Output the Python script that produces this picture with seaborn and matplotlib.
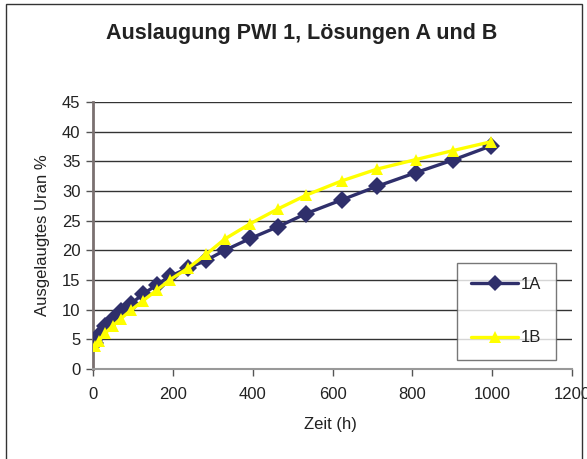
import pandas as pd
import matplotlib.pyplot as plt
import matplotlib.patches as patches
import seaborn as sns

# Zeit (h) und ausgelaugtes Uran in %
zeit = [5, 15, 30, 50, 70, 95, 125, 160, 192, 238, 283, 330, 394, 464, 534, 623, 712, 809, 901, 997]
uran_1a = [4.3, 5.8, 7.3, 8.5, 9.7, 11.0, 12.6, 14.2, 15.6, 17.0, 18.3, 20.0, 22.0, 24.0, 26.2, 28.5, 30.8, 33.1, 35.2, 37.6]
uran_1b = [3.8, 4.8, 6.0, 7.3, 8.5, 9.9, 11.5, 13.3, 15.0, 17.0, 19.3, 21.9, 24.5, 27.0, 29.3, 31.7, 33.7, 35.3, 36.8, 38.3]
series = ['1A', '1B']

df = pd.DataFrame({
    'Zeit': zeit + zeit,
    'Uran': uran_1a + uran_1b,
    'Serie': [series[0]] * len(zeit) + [series[1]] * len(zeit),
})

sns.set_style('white')
plt.rcParams['font.family'] = ['Liberation Sans', 'DejaVu Sans']

fig = plt.figure(figsize=(5.87, 4.59), dpi=100)
ax = fig.add_axes([93 / 587, 1 - 369 / 459, (572 - 93) / 587, (369 - 102) / 459])

palette = {'1A': '#2f2f6b', '1B': '#ffff00'}
markers = {'1A': 'D', '1B': '^'}
sns.lineplot(data=df, x='Zeit', y='Uran', hue='Serie', style='Serie',
             palette=palette, markers=markers, dashes=False, markersize=9,
             markeredgewidth=0, linewidth=2.4, ax=ax, zorder=3)

ax.set_xlim(0, 1200)
ax.set_ylim(0, 45)
ax.set_xticks(range(0, 1201, 200))
ax.set_yticks(range(0, 46, 5))
ax.yaxis.grid(True, color='#333333', linewidth=1)
ax.xaxis.grid(False)
ax.tick_params(axis='both', direction='out', length=5, width=1, color='#555555',
               labelsize=12, labelcolor='#222222', bottom=True, left=True, pad=4)
ax.tick_params(axis='x', pad=8)
for side in ['top', 'right']:
    ax.spines[side].set_visible(False)
ax.spines['left'].set_color('#7a7070')
ax.spines['left'].set_linewidth(2)
ax.spines['bottom'].set_color('#999999')
ax.spines['bottom'].set_linewidth(1.5)

ax.set_xlabel('Zeit (h)', fontsize=12, color='#222222')
ax.set_ylabel('Ausgelaugtes Uran %', fontsize=12, color='#222222')
ax.xaxis.set_label_coords((330 - 93) / 479, (369 - 417) / 267)
ax.yaxis.set_label_coords((50 - 93) / 479, 0.5)

fig.text(302 / 587, 1 - 33 / 459, 'Auslaugung PWI 1, Lösungen A und B',
         ha='center', va='center', fontsize=15.5, fontweight='bold', color='#222222')

handles, labels = ax.get_legend_handles_labels()
for h in handles:
    h.set_markersize(8)
leg = ax.legend(handles, labels, loc='upper left', bbox_to_anchor=((457 - 93) / 479, (369 - 263) / 267),
                borderaxespad=0, frameon=True, fancybox=False, fontsize=12,
                labelspacing=2.3, handlelength=2.8, borderpad=0.85,
                handletextpad=0.2)
leg.get_frame().set_edgecolor('#555555')
leg.get_frame().set_linewidth(1)
for t in leg.get_texts():
    t.set_color('#222222')

fig.patches.append(patches.Rectangle((6 / 587, -0.05), (582 - 6) / 587, 1 - 4 / 459 + 0.05,
                                     transform=fig.transFigure, fill=False,
                                     edgecolor='#333333', linewidth=1))

fig.savefig('out.png', dpi=100)
